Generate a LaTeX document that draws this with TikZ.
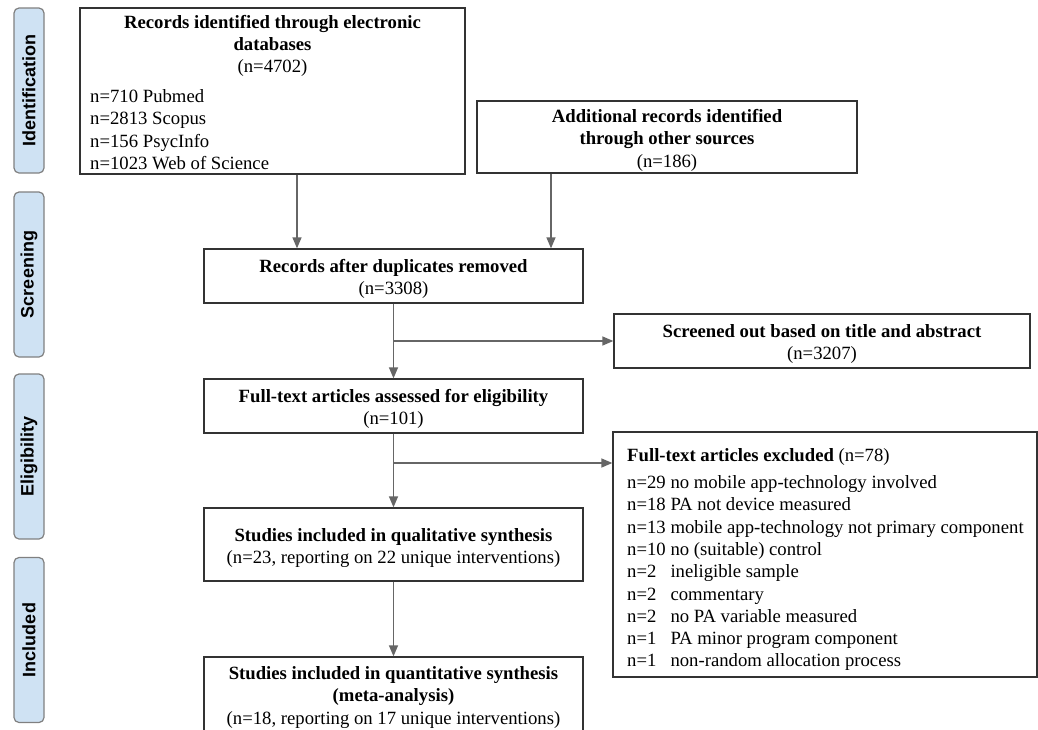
\documentclass[tikz,border=0pt]{standalone}
\usepackage{fontspec}
\setmainfont{Liberation Serif}
\newfontfamily\tabfont{Liberation Sans}
\usetikzlibrary{arrows.meta,calc}
\definecolor{tabblue}{HTML}{CFE2F3}
\definecolor{tabline}{HTML}{808080}
\definecolor{boxline}{HTML}{333333}
\definecolor{arrgray}{HTML}{666666}
\newcommand{\bodyfont}{\fontsize{18.7}{22.3}\selectfont}
\newcommand{\toprule}{\rule{0pt}{19.5pt}}
\tikzstyle{stage}=[rotate=90, draw=tabline, fill=tabblue, rounded corners=5pt, line width=1.2pt, minimum width=165pt, minimum height=30pt, inner sep=0pt, font=\tabfont\bfseries\fontsize{18}{20}\selectfont]
\tikzstyle{box}=[draw=boxline, line width=1.3pt, inner sep=0pt, align=center, font=\bodyfont]
\tikzstyle{frame}=[draw=boxline, line width=1.3pt, inner sep=0pt]
\tikzstyle{txt}=[align=left, font=\bodyfont]
\tikzstyle{arr}=[draw=arrgray, line width=1.4pt, -{Triangle[length=11pt,width=9pt]}]

\begin{document}
\begin{tikzpicture}[x=1pt, y=-1pt]
    \useasboundingbox (0,0) rectangle (1038,729);

    % phases on the left
    \node[stage] (ident) at (29,90.5) {Identification};
    \node[stage] (screen) at (29,274.5) {Screening};
    \node[stage] (elig) at (29,456.5) {Eligibility};
    \node[stage] (incl) at (29,640) {Included};

    % identification
    \node[frame, minimum width=385pt, minimum height=166pt] (recs) at (272.5,91) {};
    \node[txt, align=center, anchor=north] (recstitle) at (272.5,11.5) {\textbf{Records identified through electronic}\\\textbf{databases}\\(n=4702)};
    \node[txt, anchor=north west] (recslist) at (86.7,86) {n=710 Pubmed\\n=2813 Scopus\\n=156 PsycInfo\\n=1023 Web of Science};
    \node[box, minimum width=380pt, minimum height=72pt] (other) at (667,137) {\toprule\textbf{Additional records identified}\\\textbf{through other sources}\\(n=186)};

    % screening
    \node[box, minimum width=379pt, minimum height=54pt] (dup) at (393.5,276) {\toprule\textbf{Records after duplicates removed}\\(n=3308)};
    \node[box, minimum width=416pt, minimum height=54pt] (scr) at (822,341) {\toprule\textbf{Screened out based on title and abstract}\\(n=3207)};

    % eligibility
    \node[box, minimum width=379pt, minimum height=54pt] (full) at (393.5,406) {\toprule\textbf{Full-text articles assessed for eligibility}\\(n=101)};
    \node[frame, minimum width=424pt, minimum height=245pt] (excl) at (825,554.5) {};
    \node[txt, anchor=north west] (excllist) at (623.7,444.7) {\textbf{Full-text articles excluded} (n=78)\\[5pt]
        n=29 no mobile app-technology involved\\
        n=18 PA not device measured\\
        n=13 mobile app-technology not primary component\\
        n=10 no (suitable) control\\
        n=2\phantom{9} ineligible sample\\
        n=2\phantom{9} commentary\\
        n=2\phantom{9} no PA variable measured\\
        n=1\phantom{9} PA minor program component\\
        n=1\phantom{9} non-random allocation process};

    % included
    \node[box, minimum width=379pt, minimum height=73pt] (qual) at (393.5,544.5) {\toprule\textbf{Studies included in qualitative synthesis}\\(n=23, reporting on 22 unique interventions)};
    \node[box, minimum width=379pt, minimum height=74pt] (quant) at (393.5,694) {\toprule\textbf{Studies included in quantitative synthesis}\\\textbf{(meta-analysis)}\\(n=18, reporting on 17 unique interventions)};

    % connectors
    \coordinate (c1) at (297,0);
    \coordinate (c2) at (551,0);
    \coordinate (c3) at (0,463);
    \draw[arr] (recs.south -| c1) -- (dup.north -| c1);
    \draw[arr] (other.south -| c2) -- (dup.north -| c2);
    \draw[arr] (dup.south) -- (full.north);
    \draw[arr] (dup.south |- scr.west) -- (scr.west);
    \draw[arr] (full.south) -- (qual.north);
    \draw[arr] (full.south |- c3) -- (excl.west |- c3);
    \draw[arr] (qual.south) -- (quant.north);
\end{tikzpicture}
\end{document}
